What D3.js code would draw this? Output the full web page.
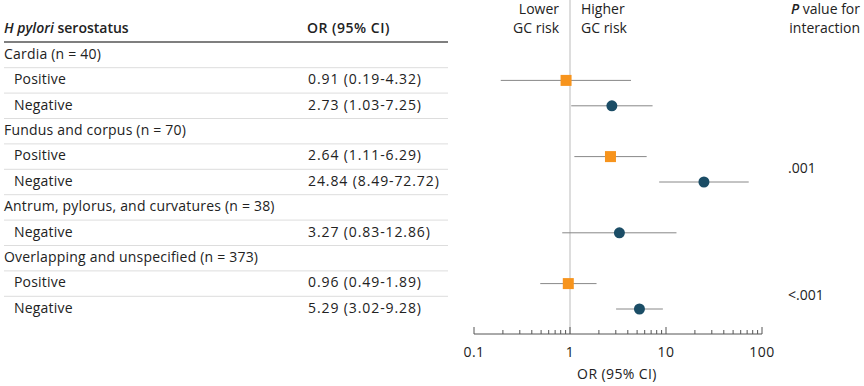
<!DOCTYPE html>
<html>
<head>
<meta charset="utf-8">
<script src="https://cdn.jsdelivr.net/npm/d3@7"></script>
<style>
  body { margin: 0; background: #fff; }
  text { font-family: "Open Sans", "Noto Sans", sans-serif; fill: #222; font-size: 14px; }
</style>
</head>
<body>
<div id="chart"></div>
<script>
// rows of the table, top to bottom
var rowLabels = ["Cardia (n = 40)", "Positive", "Negative",
  "Fundus and corpus (n = 70)", "Positive", "Negative",
  "Antrum, pylorus, and curvatures (n = 38)", "Negative",
  "Overlapping and unspecified (n = 373)", "Positive", "Negative"];
var isGroup = [true, false, false, true, false, false, true, false, true, false, false];
var orText = ["", "0.91 (0.19-4.32)", "2.73 (1.03-7.25)",
  "", "2.64 (1.11-6.29)", "24.84 (8.49-72.72)",
  "", "3.27 (0.83-12.86)",
  "", "0.96 (0.49-1.89)", "5.29 (3.02-9.28)"];
var orValue = [null, 0.91, 2.73, null, 2.64, 24.84, null, 3.27, null, 0.96, 5.29];
var ciLow = [null, 0.19, 1.03, null, 1.11, 8.49, null, 0.83, null, 0.49, 3.02];
var ciHigh = [null, 4.32, 7.25, null, 6.29, 72.72, null, 12.86, null, 1.89, 9.28];
var serostatus = ["", "pos", "neg", "", "pos", "neg", "", "neg", "", "pos", "neg"];
// p values sit between two rows
var pValues = [{ text: ".001", rows: [4, 5] }, { text: "<.001", rows: [9, 10] }];
var xTicks = [0.1, 1, 10, 100];

var width = 864, height = 386;
var svg = d3.select("#chart").append("svg")
  .attr("width", width).attr("height", height);

var y = d3.scaleLinear().domain([0, 10]).range([55, 309]);
var rowH = (y(1) - y(0));
var x = d3.scaleLog().domain([0.1, 100]).range([474, 762]);
var axisY = 334;

var orange = "#f7941d", navy = "#1b4d66";

// header
var head = svg.append("text").attr("x", 4).attr("y", 29)
  .attr("dominant-baseline", "middle")
  .style("font-weight", 600);
head.append("tspan").style("font-style", "italic").text("H pylori");
head.append("tspan").text(" serostatus");
svg.append("text").attr("x", 307).attr("y", 29)
  .attr("dominant-baseline", "middle")
  .style("font-weight", 600).style("letter-spacing", "0.5px")
  .text("OR (95% CI)");

svg.append("line").attr("x1", 4).attr("x2", 448)
  .attr("y1", 42).attr("y2", 42)
  .attr("stroke", "#555").attr("stroke-width", 1.5);

// row separators
svg.selectAll(".sep").data(d3.range(10)).enter().append("line")
  .attr("x1", 4).attr("x2", 448)
  .attr("y1", function (d) { return y(d) + rowH / 2; })
  .attr("y2", function (d) { return y(d) + rowH / 2; })
  .attr("stroke", "#ddd").attr("stroke-width", 1);

// row labels
svg.selectAll(".lab").data(rowLabels).enter().append("text")
  .attr("x", function (d, i) { return isGroup[i] ? 4 : 14; })
  .attr("y", function (d, i) { return y(i); })
  .attr("dominant-baseline", "middle")
  .style("letter-spacing", "0.2px")
  .text(function (d) { return d; });

svg.selectAll(".ort").data(orText).enter().append("text")
  .attr("x", 308)
  .attr("y", function (d, i) { return y(i); })
  .attr("dominant-baseline", "middle")
  .style("letter-spacing", "0.9px")
  .text(function (d) { return d; });

// reference line at OR = 1
svg.append("line").attr("x1", x(1)).attr("x2", x(1))
  .attr("y1", 0).attr("y2", axisY)
  .attr("stroke", "#bbb").attr("stroke-width", 1);

// direction labels
[["Lower", 10], ["GC risk", 29]].forEach(function (t) {
  svg.append("text").attr("x", 559).attr("y", t[1])
    .attr("text-anchor", "end").attr("dominant-baseline", "middle")
    .text(t[0]);
});
[["Higher", 10], ["GC risk", 29]].forEach(function (t) {
  svg.append("text").attr("x", 581).attr("y", t[1])
    .attr("dominant-baseline", "middle")
    .text(t[0]);
});
var ph = svg.append("text").attr("x", 860).attr("y", 10)
  .attr("text-anchor", "end").attr("dominant-baseline", "middle");
ph.append("tspan").style("font-style", "italic").style("font-weight", 600).text("P");
ph.append("tspan").text(" value for");
svg.append("text").attr("x", 860).attr("y", 29)
  .attr("text-anchor", "end").attr("dominant-baseline", "middle")
  .text("interaction");

// confidence intervals
var pts = d3.range(rowLabels.length).filter(function (i) { return orValue[i] != null; });
svg.selectAll(".ci").data(pts).enter().append("line")
  .attr("x1", function (i) { return x(ciLow[i]); })
  .attr("x2", function (i) { return x(ciHigh[i]); })
  .attr("y1", function (i) { return y(i); })
  .attr("y2", function (i) { return y(i); })
  .attr("stroke", "#888").attr("stroke-width", 1);

svg.selectAll(".sq").data(pts.filter(function (i) { return serostatus[i] == "pos"; }))
  .enter().append("rect")
  .attr("x", function (i) { return x(orValue[i]) - 5.5; })
  .attr("y", function (i) { return y(i) - 5.5; })
  .attr("width", 11).attr("height", 11)
  .attr("fill", orange);

svg.selectAll(".dot").data(pts.filter(function (i) { return serostatus[i] == "neg"; }))
  .enter().append("circle")
  .attr("cx", function (i) { return x(orValue[i]); })
  .attr("cy", function (i) { return y(i); })
  .attr("r", 5.5)
  .attr("fill", navy);

// p values
svg.selectAll(".pv").data(pValues).enter().append("text")
  .attr("x", 788)
  .attr("y", function (d) { return (y(d.rows[0]) + y(d.rows[1])) / 2; })
  .attr("dominant-baseline", "middle")
  .text(function (d) { return d.text; });

// axis
var minor = [];
[0.1, 1, 10].forEach(function (b) {
  for (var k = 2; k <= 9; k++) minor.push(b * k);
});
var ax = svg.append("g").attr("transform", "translate(0," + axisY + ")");
ax.append("line").attr("x1", x(0.1)).attr("x2", x(100))
  .attr("stroke", "#555");
ax.selectAll(".mn").data(minor).enter().append("line")
  .attr("x1", function (d) { return x(d); }).attr("x2", function (d) { return x(d); })
  .attr("y1", 0).attr("y2", -4).attr("stroke", "#555");
ax.selectAll(".mj").data(xTicks).enter().append("line")
  .attr("x1", function (d) { return x(d); }).attr("x2", function (d) { return x(d); })
  .attr("y1", 0).attr("y2", -7).attr("stroke", "#555");
ax.selectAll(".tl").data(xTicks).enter().append("text")
  .attr("x", function (d) { return x(d); }).attr("y", 19)
  .attr("text-anchor", "middle").attr("dominant-baseline", "middle")
  .style("letter-spacing", "0.5px")
  .text(function (d) { return d; });
svg.append("text").attr("x", 617).attr("y", 375)
  .attr("text-anchor", "middle").attr("dominant-baseline", "middle")
  .style("letter-spacing", "0.4px")
  .text("OR (95% CI)");
</script>
</body>
</html>
